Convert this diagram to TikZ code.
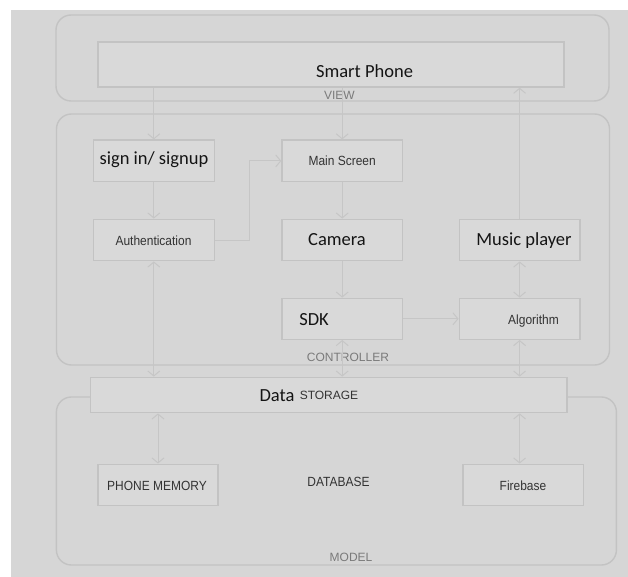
\documentclass[tikz,border=0pt]{standalone}
\usepackage{fontspec}
\setmainfont{Liberation Sans}
\newfontfamily\calfont{Carlito}
\newfontfamily\condfont[FakeStretch=0.9]{Liberation Sans}
\usetikzlibrary{arrows.meta}
\definecolor{bgc}{HTML}{D6D6D6}
\definecolor{edgec}{HTML}{C3C3C3}
\definecolor{linec}{HTML}{C6C6C6}
\definecolor{boxc}{HTML}{D9D9D9}
\definecolor{txtc}{HTML}{333333}
\definecolor{tagc}{HTML}{7A7A7A}
\begin{document}
\begin{tikzpicture}[x=1pt,y=-1pt,
  layer/.style={draw=edgec, line width=1.4pt, rounded corners=15pt, inner sep=0pt},
  box/.style={draw=edgec, fill=boxc, line width=1.4pt, inner sep=0pt,
              minimum width=121pt, minimum height=41.5pt},
  big/.style={font=\calfont\fontsize{18.5}{20}\selectfont, text=black!92, inner sep=0pt, anchor=base},
  small/.style={font=\condfont\fontsize{13.3}{15}\selectfont, text=txtc, inner sep=0pt, anchor=base},
  tag/.style={font=\fontsize{12}{14}\selectfont, text=tagc, inner sep=0pt, anchor=base},
  link/.style={draw=linec, line width=1pt},
  head/.style={-{Straight Barb[length=5pt,width=12pt]}},
  twohead/.style={{Straight Barb[length=5pt,width=12pt]}-{Straight Barb[length=5pt,width=12pt]}}
]
\useasboundingbox (0,0) rectangle (628,577);
\fill[white] (0,0) rectangle (628,577);
\fill[bgc] (11,10) rectangle (628,577);

% layers
\node[layer, minimum width=553pt, minimum height=86pt] (viewL) at (332.5,58) {};
\node[layer, minimum width=553pt, minimum height=251pt] (ctrlL) at (333,239.5) {};
\node[layer, minimum width=560pt, minimum height=168pt] (modelL) at (336.4,481) {};

% boxes
\node[box, minimum width=466pt, minimum height=45pt] (sp) at (331,64.5) {};
\node[box] (si) at (153.8,160.9) {};
\node[box] (auth) at (153.8,240) {};
\node[box, minimum width=120.3pt] (ms) at (342.2,160.9) {};
\node[box, minimum width=120.3pt] (cam) at (342.2,240) {};
\node[box, minimum width=120.3pt, minimum height=41pt] (sdk) at (342.2,318.8) {};
\node[box, minimum width=120.7pt] (mp) at (519.6,240) {};
\node[box, minimum width=120.7pt, minimum height=41pt] (alg) at (519.6,318.8) {};
\node[box, minimum width=476.5pt, minimum height=35.4pt] (data) at (328.75,395) {};
\node[box, minimum width=120pt] (pm) at (158,485) {};
\node[box, minimum width=120.5pt] (fb) at (523.2,485) {};

% texts
\node[big] (spT) at (364.5,78) {Smart Phone};
\node[big] (siT) at (154,164.3) {sign in/ signup};
\node[small] (authT) at (153.5,245) {Authentication};
\node[small] (msT) at (342.2,166) {Main Screen};
\node[big] (camT) at (337,245.7) {Camera};
\node[big] (mpT) at (524,245.7) {Music player};
\node[big] (sdkT) at (314,325) {SDK};
\node[small] (algT) at (533.5,324) {Algorithm};
\node[big] (dataT) at (277,401.3) {Data};
\node[tag, text=txtc] (storT) at (329,399.3) {STORAGE};
\node[small] (pmT) at (157,490) {PHONE MEMORY};
\node[small] (dbT) at (338.5,486.7) {DATABASE};
\node[small] (fbT) at (523,490) {Firebase};
\node[tag] (viewT) at (339.4,100) {VIEW};
\node[tag] (ctrlT) at (348,361.7) {CONTROLLER};
\node[tag] (modelT) at (351,561) {MODEL};

% connectors
\draw[link,head] (sp.south -| si) -- (si.north);
\draw[link,head] (sp.south -| ms) -- (ms.north);
\draw[link,head] (mp.north) -- (sp.south -| mp);
\draw[link,head] (si.south) -- (auth.north);
\draw[link,head] (auth.east) -- ++(34.5,0) |- (ms.west);
\draw[link,head] (ms.south) -- (cam.north);
\draw[link,head] (cam.south) -- (sdk.north);
\draw[link,head] (sdk.east) -- (alg.west);
\draw[link,twohead] (mp.south) -- (alg.north);
\draw[link,twohead] (auth.south) -- (data.north -| auth);
\draw[link,twohead] (sdk.south) -- (data.north -| sdk);
\draw[link,twohead] (alg.south) -- (data.north -| alg);
\draw[link,twohead] (data.south -| pm) -- (pm.north);
\draw[link,twohead] (data.south -| alg) -- (fb.north -| alg);
\end{tikzpicture}
\end{document}
